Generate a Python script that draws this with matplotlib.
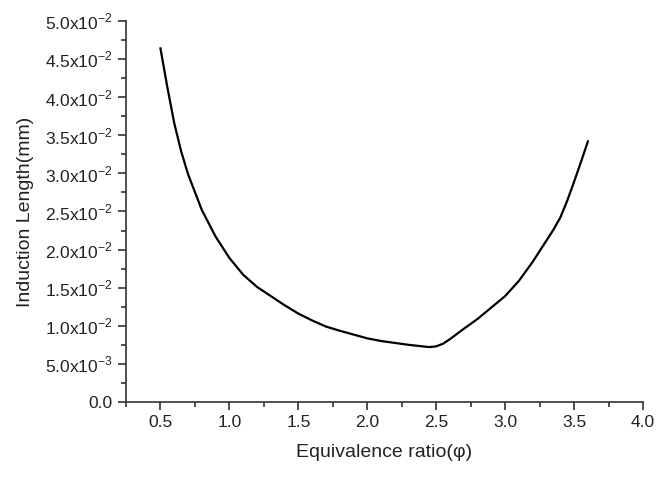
"""
Induction length vs equivalence ratio.
"""

import matplotlib

matplotlib.use("Agg")
import matplotlib.pyplot as plt
from matplotlib.ticker import FuncFormatter, MultipleLocator

plt.rcParams["font.family"] = ["Liberation Sans", "DejaVu Sans"]
plt.rcParams["mathtext.fontset"] = "custom"
plt.rcParams["mathtext.rm"] = "Liberation Sans"

# values
phi = [0.5, 0.55, 0.6, 0.65, 0.7, 0.8, 0.9, 1.0, 1.1, 1.2, 1.3, 1.4, 1.5,
       1.6, 1.7, 1.8, 1.9, 2.0, 2.1, 2.2, 2.3, 2.4, 2.45, 2.5, 2.55, 2.6,
       2.7, 2.8, 2.9, 3.0, 3.1, 3.2, 3.3, 3.35, 3.4, 3.45, 3.5, 3.55, 3.6]
length_e3 = [46.4, 41.3, 36.6, 32.9, 29.9, 25.2, 21.7, 18.9, 16.7, 15.1,
             13.9, 12.7, 11.6, 10.7, 9.9, 9.35, 8.85, 8.35, 8.0, 7.75, 7.5,
             7.3, 7.2, 7.3, 7.65, 8.25, 9.6, 10.9, 12.4, 13.9, 15.9, 18.4,
             21.2, 22.6, 24.2, 26.4, 28.9, 31.5, 34.2]
induction_length = [v * 1e-3 for v in length_e3]

X_TICKS = [0.5, 1.0, 1.5, 2.0, 2.5, 3.0, 3.5, 4.0]


def y_fmt(v, pos):
    if abs(v) < 1e-12:
        return "0.0"
    mant, exp = f"{v:.1e}".split("e")
    return rf"{mant}x10$^{{\mathregular{{{int(exp)}}}}}$"


fig = plt.figure(figsize=(6.61, 4.79), dpi=100)
ax = fig.add_axes([0.1906, 0.1608, 0.7822, 0.7954])
ax.plot(phi, induction_length, color="black", linewidth=1.6,
        solid_joinstyle="round")

ax.set_xlim(0.25, 4.0)
ax.set_ylim(0, 0.05)
ax.set_xticks(X_TICKS)
ax.xaxis.set_major_formatter(FuncFormatter(lambda v, p: f"{v:.1f}"))
ax.xaxis.set_minor_locator(MultipleLocator(0.25))
ax.yaxis.set_major_locator(MultipleLocator(0.005))
ax.yaxis.set_minor_locator(MultipleLocator(0.0025))
ax.yaxis.set_major_formatter(FuncFormatter(y_fmt))

for side in ("top", "right"):
    ax.spines[side].set_visible(False)
for side in ("left", "bottom"):
    ax.spines[side].set_color("#333333")
    ax.spines[side].set_linewidth(1.2)
ax.tick_params(which="major", direction="out", length=6, width=1.2,
               colors="#333333", labelsize=12.5, labelcolor="#222222")
ax.tick_params(which="minor", direction="out", length=3.5, width=1.2,
               colors="#333333")

ax.set_xlabel("Equivalence ratio(φ)", fontsize=14, color="#222222", labelpad=10)
ax.set_ylabel("Induction Length(mm)", fontsize=14, color="#222222", labelpad=8)

fig.savefig("out.png", dpi=100)
